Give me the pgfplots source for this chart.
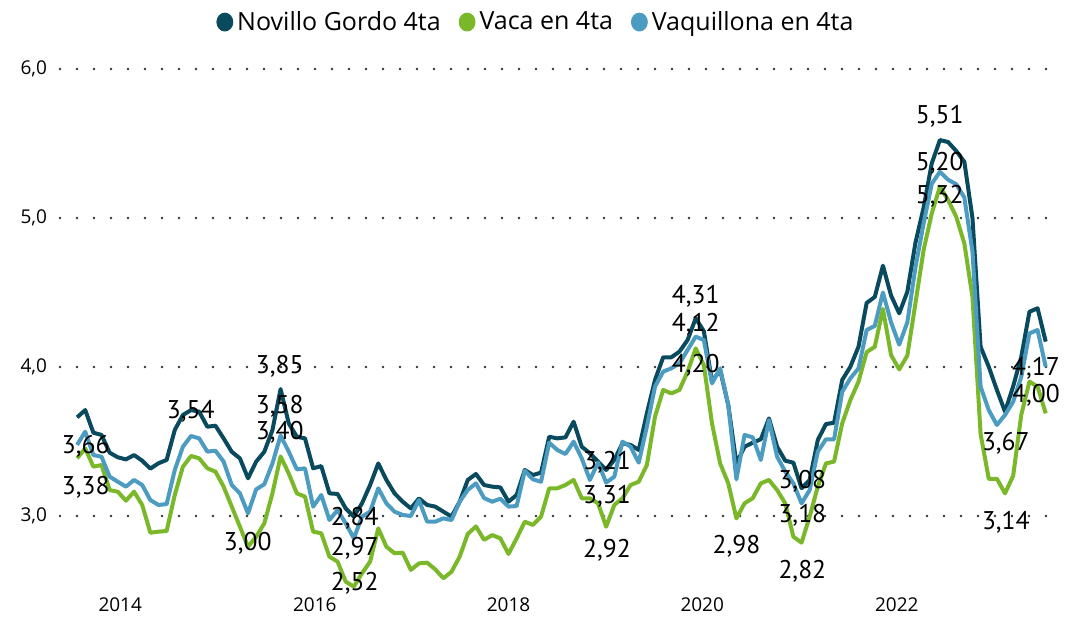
\documentclass[border=0pt]{standalone}
\usepackage{fontspec}
\setmainfont{Open Sans}
\newfontfamily\lblfont{PT Sans}
\usepackage{pgfplots}
\usepackage{pgfplotstable}
\pgfplotsset{compat=1.18}

\definecolor{novillo}{RGB}{10,74,94}
\definecolor{vaca}{RGB}{122,184,42}
\definecolor{vaq}{RGB}{76,155,192}

% monthly prices, one row per month (x = row index)
\pgfplotstableread{
nov vaca vaq
3.662 3.387 3.477
3.711 3.454 3.566
3.559 3.331 3.409
3.544 3.342 3.398
3.425 3.174 3.264
3.394 3.163 3.230
3.380 3.103 3.197
3.409 3.163 3.242
3.371 3.074 3.208
3.318 2.888 3.107
3.354 2.895 3.074
3.376 2.899 3.080
3.577 3.141 3.309
3.678 3.331 3.465
3.711 3.403 3.537
3.700 3.387 3.521
3.599 3.320 3.432
3.606 3.298 3.438
3.521 3.197 3.365
3.431 3.063 3.208
3.387 2.929 3.152
3.253 2.794 3.018
3.365 2.861 3.179
3.431 2.951 3.213
3.577 3.152 3.353
3.852 3.400 3.540
3.622 3.286 3.432
3.532 3.152 3.313
3.521 3.130 3.320
3.320 2.895 3.063
3.335 2.884 3.141
3.152 2.727 2.973
3.148 2.694 3.040
3.051 2.559 2.951
2.996 2.526 2.850
3.085 2.615 2.996
3.208 2.694 3.029
3.353 2.917 3.186
3.242 2.794 3.085
3.152 2.750 3.029
3.096 2.754 3.007
3.051 2.638 3.000
3.118 2.682 3.107
3.074 2.687 2.962
3.063 2.642 2.962
3.029 2.582 2.984
2.996 2.626 2.973
3.096 2.727 3.096
3.242 2.880 3.175
3.282 2.930 3.219
3.208 2.840 3.120
3.197 2.872 3.096
3.192 2.850 3.116
3.096 2.745 3.063
3.141 2.850 3.067
3.309 2.962 3.304
3.275 2.940 3.246
3.291 2.996 3.230
3.532 3.186 3.492
3.521 3.186 3.443
3.528 3.208 3.416
3.633 3.242 3.499
3.465 3.119 3.387
3.421 3.119 3.242
3.365 3.085 3.358
3.309 2.928 3.224
3.376 3.074 3.264
3.488 3.119 3.499
3.477 3.208 3.465
3.443 3.230 3.358
3.689 3.342 3.600
3.913 3.667 3.868
4.065 3.846 3.969
4.065 3.823 3.991
4.103 3.846 4.025
4.181 3.968 4.114
4.327 4.125 4.204
4.240 4.013 4.181
3.902 3.622 3.890
3.980 3.353 3.991
3.745 3.219 3.745
3.353 2.984 3.246
3.465 3.085 3.544
3.492 3.119 3.528
3.515 3.219 3.376
3.655 3.242 3.644
3.465 3.174 3.398
3.371 3.085 3.298
3.358 2.861 3.219
3.186 2.821 3.085
3.242 2.996 3.174
3.510 3.197 3.432
3.617 3.353 3.515
3.626 3.365 3.515
3.913 3.622 3.834
4.002 3.778 3.924
4.136 3.902 3.991
4.430 4.100 4.248
4.470 4.136 4.276
4.680 4.390 4.500
4.480 4.080 4.300
4.360 3.984 4.150
4.505 4.077 4.300
4.835 4.430 4.670
5.070 4.785 4.964
5.367 5.031 5.230
5.523 5.210 5.310
5.510 5.121 5.257
5.450 5.009 5.227
5.378 4.830 5.138
5.000 4.470 4.775
4.136 3.550 3.868
4.002 3.250 3.711
3.846 3.250 3.611
3.700 3.152 3.678
3.870 3.270 3.767
4.069 3.680 3.935
4.371 3.902 4.226
4.394 3.868 4.248
4.170 3.689 4.002
}\precios

\begin{document}
\begin{tikzpicture}
\path[use as bounding box] (0,0) rectangle (536pt,311pt);
\begin{axis}[
    at={(30pt,15.75pt)}, anchor=south west,
    scale only axis, width=501pt, height=260.75pt,
    xmin=-2.1, xmax=121, ymin=2.5, ymax=6,
    axis line style={draw=none}, tick style={draw=none},
    xtick={5.3,29.2,53.0,76.8,100.7},
    xticklabels={2014,2016,2018,2020,2022},
    ytick={3,4,5,6},
    ymajorgrids,
    grid style={line width=1.3pt, line cap=round, dash pattern=on 0pt off 8.5pt, color=black!80},
    /pgf/number format/assume math mode=true,
    y tick label style={/pgf/number format/fixed, /pgf/number format/fixed zerofill,
        /pgf/number format/precision=1, /pgf/number format/use comma, xshift=-3pt},
    tick label style={font=\fontsize{9.5}{11}\selectfont},
    clip=false,
    legend columns=3,
    legend style={draw=none, fill=none, at={(0.476,1.09)}, anchor=center,
        font=\fontsize{12.5}{14}\selectfont,
        /tikz/every even column/.append style={column sep=7pt}},
    legend image code/.code={\fill (0.2em,0) ellipse (0.32em and 0.37em);},
    every axis plot/.append style={line width=2pt, line join=round, no marks},
]
\addplot[color=novillo] table[x expr=\coordindex, y=nov] {\precios};
\addlegendentry{Novillo Gordo 4ta}
\addplot[color=vaca] table[x expr=\coordindex, y=vaca] {\precios};
\addlegendentry{Vaca en 4ta}
\addplot[color=vaq] table[x expr=\coordindex, y=vaq] {\precios};
\addlegendentry{Vaquillona en 4ta}

\tikzset{lbl/.style={font=\lblfont\fontsize{12.8}{14}\selectfont, inner sep=0pt}}
\node[lbl] at (axis cs:1.07,3.470) {3,66};
\node[lbl] at (axis cs:1.07,3.195) {3,38};
\node[lbl] at (axis cs:13.97,3.705) {3,54};
\node[lbl] at (axis cs:20.97,2.819) {3,00};
\node[lbl] at (axis cs:24.9,4.007) {3,85};
\node[lbl] at (axis cs:24.9,3.738) {3,58};
\node[lbl] at (axis cs:24.9,3.564) {3,40};
\node[lbl] at (axis cs:34.1,2.987) {2,84};
\node[lbl] at (axis cs:34.1,2.785) {2,97};
\node[lbl] at (axis cs:34.1,2.550) {2,52};
\node[lbl] at (axis cs:65.1,3.362) {3,21};
\node[lbl] at (axis cs:65.1,3.134) {3,31};
\node[lbl] at (axis cs:65.1,2.772) {2,92};
\node[lbl] at (axis cs:76.0,4.477) {4,31};
\node[lbl] at (axis cs:76.0,4.289) {4,12};
\node[lbl] at (axis cs:76.0,4.013) {4,20};
\node[lbl] at (axis cs:81.0,2.799) {2,98};
\node[lbl] at (axis cs:89.1,3.235) {3,08};
\node[lbl] at (axis cs:89.1,3.007) {3,18};
\node[lbl] at (axis cs:89.1,2.631) {2,82};
\node[lbl] at (axis cs:105.98,5.685) {5,51};
\node[lbl] at (axis cs:105.98,5.369) {5,20};
\node[lbl] at (axis cs:105.98,5.148) {5,32};
\node[lbl] at (axis cs:117.8,3.993) {4,17};
\node[lbl] at (axis cs:117.8,3.812) {4,00};
\node[lbl] at (axis cs:114.1,3.490) {3,67};
\node[lbl] at (axis cs:114.1,2.960) {3,14};
\end{axis}
\end{tikzpicture}
\end{document}
